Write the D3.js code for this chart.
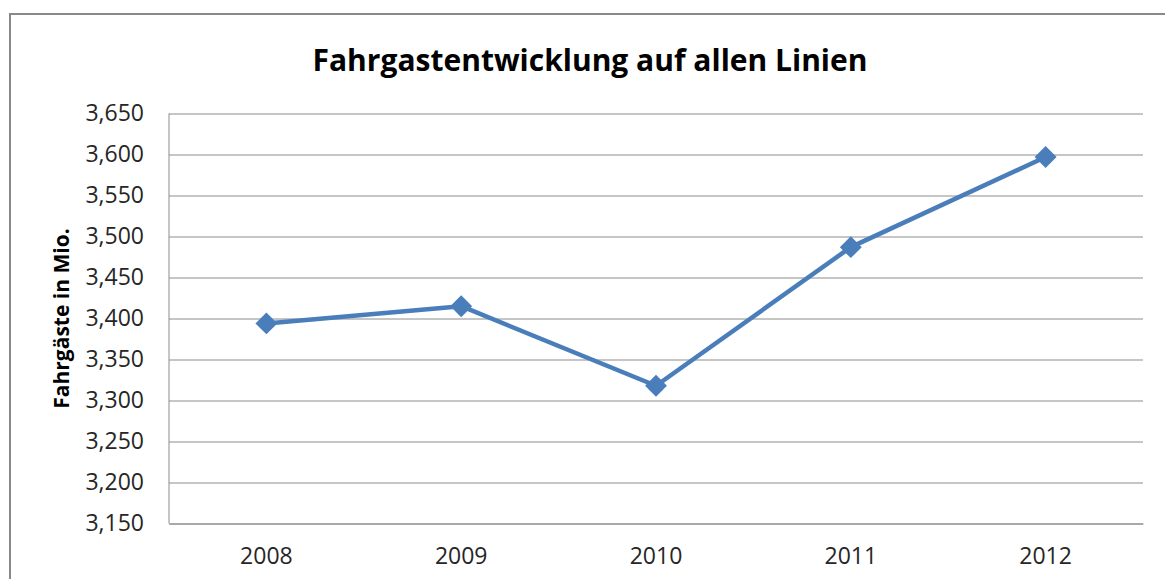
<!DOCTYPE html>
<html>
<head>
<meta charset="utf-8">
<script src="https://cdn.jsdelivr.net/npm/d3@7"></script>
<style>
  body { margin: 0; background: #fff; }
  svg { display: block; font-family: "Open Sans", "Noto Sans", sans-serif; }
</style>
</head>
<body>
<div id="chart"></div>
<script>
(function(){

const years = ["2008", "2009", "2010", "2011", "2012"];
const passengers = [3394, 3415, 3318, 3487, 3597];
const yTicks = [3150, 3200, 3250, 3300, 3350, 3400, 3450, 3500, 3550, 3600, 3650];

let width = 1165,
    height = 579,
    margin = ({ top: 113.5, right: 22, bottom: 55.5, left: 169 });

const svg = d3.select("#chart")
  .append("svg")
  .attr("width", width)
  .attr("height", height);

// outer chart frame (runs off the right and bottom of the picture)
svg.append("rect")
  .attr("x", 10)
  .attr("y", 14)
  .attr("width", width + 20)
  .attr("height", height + 20)
  .attr("fill", "none")
  .attr("stroke", "#898989")
  .attr("stroke-width", 2);

let x = d3.scaleBand()
  .domain(years)
  .range([margin.left, width - margin.right]);

let y = d3.scaleLinear()
  .domain([3150, 3650])
  .range([height - margin.bottom, margin.top]);

// gridlines + y labels
svg.append("g")
  .attr("class", "y-axis")
  .attr("transform", `translate(${margin.left},0)`)
  .call(d3.axisLeft(y)
    .tickValues(yTicks)
    .tickFormat(d3.format(","))
    .tickSize(-(width - margin.left - margin.right))
    .tickPadding(25))
  .call(g => g.select(".domain").remove())
  .call(g => g.selectAll(".tick line").attr("stroke", "#8c8c8c"))
  .call(g => g.selectAll(".tick text")
    .attr("fill", "#262626")
    .attr("font-size", 23)
    .attr("font-family", "Open Sans"));

// vertical axis line
svg.append("line")
  .attr("x1", margin.left).attr("x2", margin.left)
  .attr("y1", y(3650)).attr("y2", y(3150))
  .attr("stroke", "#8c8c8c");

// x labels
svg.append("g")
  .attr("class", "x-axis")
  .attr("transform", `translate(0,${height - margin.bottom})`)
  .call(d3.axisBottom(x).tickSize(0).tickPadding(24))
  .call(g => g.select(".domain").attr("stroke", "#8c8c8c"))
  .call(g => g.selectAll(".tick text")
    .attr("fill", "#262626")
    .attr("font-size", 23)
    .attr("font-family", "Open Sans"));

const cx = d => x(d) + x.bandwidth() / 2;

svg.append("path")
  .datum(years)
  .attr("fill", "none")
  .attr("stroke", "#4a7ebb")
  .attr("stroke-width", 4.5)
  .attr("stroke-linejoin", "round")
  .attr("d", d3.line()
    .x(d => cx(d))
    .y((d, i) => y(passengers[i])));

svg.append("g")
  .attr("fill", "#4a7ebb")
  .selectAll("path")
  .data(years)
  .join("path")
  .attr("d", d3.symbol(d3.symbolSquare, 240))
  .attr("transform", (d, i) => `translate(${cx(d)},${y(passengers[i])}) rotate(45)`);

svg.append("text")
  .attr("x", 590)
  .attr("y", 71)
  .attr("text-anchor", "middle")
  .attr("font-size", 30)
  .attr("font-weight", "bold")
  .attr("fill", "#000")
  .text("Fahrgastentwicklung auf allen Linien");

svg.append("text")
  .attr("transform", `translate(69,${(y(3650) + y(3150)) / 2}) rotate(-90)`)
  .attr("text-anchor", "middle")
  .attr("font-size", 21)
  .attr("font-weight", "bold")
  .attr("fill", "#000")
  .text("Fahrgäste in Mio.");

})();
</script>
</body>
</html>
